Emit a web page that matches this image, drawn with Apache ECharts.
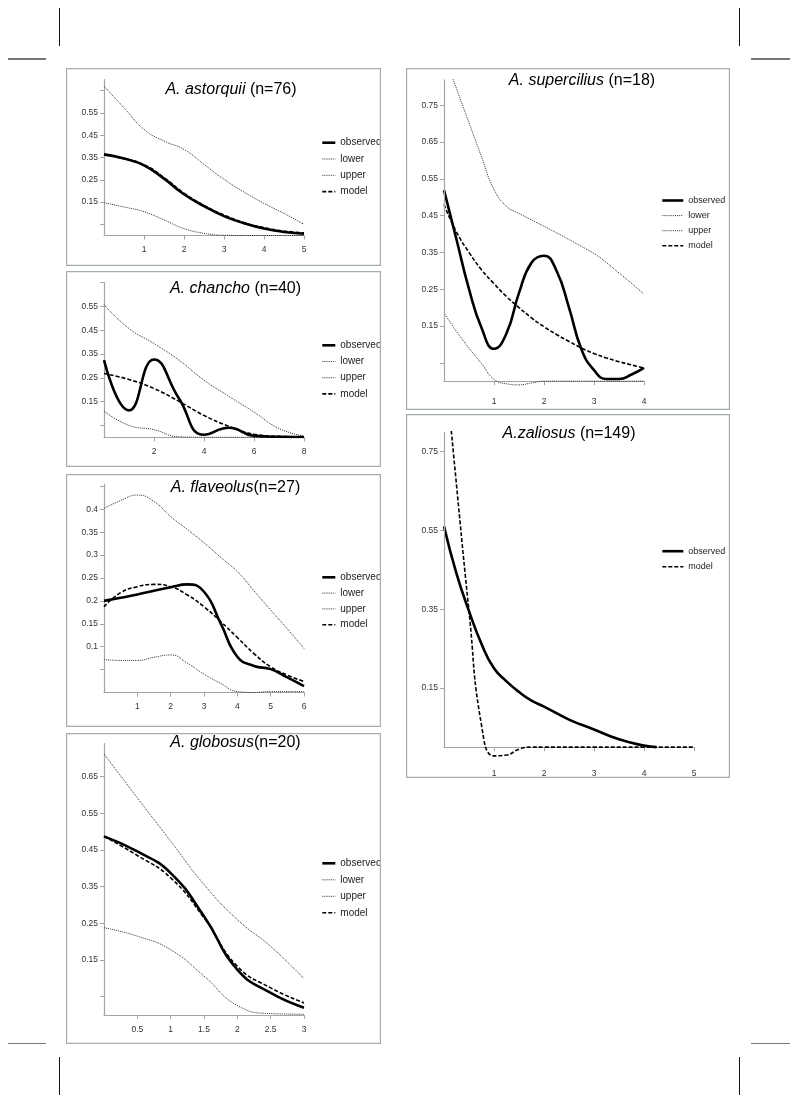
<!DOCTYPE html>
<html><head><meta charset="utf-8">
<script src="https://cdn.jsdelivr.net/npm/echarts@6/dist/echarts.min.js"></script>
<style>
html,body{margin:0;padding:0;background:#fff;}
body{width:798px;height:1103px;position:relative;overflow:hidden;}
.panel{position:absolute;}
.mv{position:absolute;background:#111;width:1.3px;}
.mh{position:absolute;background:#777;height:1.4px;}
</style></head><body>
<div class="mv" style="left:59px;top:8px;height:38px"></div>
<div class="mh" style="left:8px;top:58.3px;width:38px"></div>
<div class="mv" style="left:738.5px;top:8px;height:38px"></div>
<div class="mh" style="left:751px;top:58.3px;width:39px"></div>
<div class="mh" style="left:8px;top:1042.8px;width:38px"></div>
<div class="mv" style="left:59px;top:1057px;height:38px"></div>
<div class="mh" style="left:751px;top:1042.8px;width:39px"></div>
<div class="mv" style="left:738.5px;top:1057px;height:38px"></div>

<div id="p1" class="panel" style="left:66px;top:68px;width:315px;height:198px"></div>
<div id="p2" class="panel" style="left:66px;top:271px;width:315px;height:196px"></div>
<div id="p3" class="panel" style="left:66px;top:474px;width:315px;height:253px"></div>
<div id="p4" class="panel" style="left:66px;top:733px;width:315px;height:311px"></div>
<div id="p5" class="panel" style="left:406px;top:68px;width:324px;height:342px"></div>
<div id="p6" class="panel" style="left:406px;top:414px;width:324px;height:364px"></div>

<script>
// ---------- A. astorquii ----------
const astX = [0,0.5,1,1.5,2,2.5,3,3.5,4,4.5,5];
const astObserved = [0.364,0.345,0.315,0.255,0.185,0.132,0.087,0.055,0.031,0.016,0.008];
const astLower = [0.147,0.128,0.107,0.07,0.031,0.01,0.001,0,0,0,0];
const astUpper = [0.67,0.573,0.476,0.424,0.386,0.319,0.252,0.195,0.144,0.099,0.05];
const astModel = [0.362,0.345,0.318,0.26,0.19,0.135,0.092,0.058,0.035,0.02,0.012];
const astXTicks = [1,2,3,4,5];
const astYTicks = [0.05,0.15,0.25,0.35,0.45,0.55,0.65];
const astYLabels = [0.15,0.25,0.35,0.45,0.55];

// ---------- A. chancho ----------
const chaX = [0,1,2,3,4,5,6,7,8];
const chaObserved = [0.324,0.113,0.327,0.163,0.011,0.04,0.006,0.002,0.001];
const chaLower = [0.11,0.05,0.032,0.002,0,0,0,0,0];
const chaUpper = [0.557,0.457,0.394,0.324,0.24,0.172,0.106,0.037,0.005];
const chaModel = [0.268,0.243,0.205,0.151,0.092,0.046,0.013,0.004,0.002];
const chaXTicks = [2,4,6,8];
const chaYTicks = [0.05,0.15,0.25,0.35,0.45,0.55,0.65];
const chaYLabels = [0.15,0.25,0.35,0.45,0.55];

// ---------- A. flaveolus ----------
const flaX = [0,0.5,1,1.5,2,2.5,3,3.5,4,4.5,5,5.5,6];
const flaObserved = [0.2,0.207,0.214,0.222,0.23,0.236,0.22,0.151,0.078,0.058,0.051,0.033,0.014];
const flaLower = [0.072,0.07,0.07,0.077,0.082,0.064,0.04,0.02,0.002,0,0.002,0.002,0.002];
const flaUpper = [0.402,0.419,0.431,0.417,0.384,0.356,0.327,0.295,0.264,0.222,0.18,0.139,0.096];
const flaModel = [0.187,0.218,0.231,0.236,0.231,0.213,0.187,0.155,0.12,0.085,0.056,0.038,0.024];
const flaXTicks = [1,2,3,4,5,6];
const flaYTicks = [0.05,0.1,0.15,0.2,0.25,0.3,0.35,0.4,0.45];
const flaYLabels = [0.1,0.15,0.2,0.25,0.3,0.35,0.4];

// ---------- A. globosus ----------
const gloX = [0,0.5,1,1.5,2,2.5,3];
const gloObserved = [0.487,0.446,0.387,0.269,0.124,0.06,0.02];
const gloLower = [0.238,0.215,0.178,0.106,0.026,0.004,0.002];
const gloUpper = [0.712,0.592,0.474,0.356,0.26,0.187,0.099];
const gloModel = [0.487,0.435,0.374,0.265,0.133,0.074,0.033];
const gloXTicks = [0.5,1,1.5,2,2.5,3];
const gloYTicks = [0.05,0.15,0.25,0.35,0.45,0.55,0.65];
const gloYLabels = [0.15,0.25,0.35,0.45,0.55,0.65];

// ---------- A. supercilius ----------
const supX = [0,0.25,0.5,0.75,1,1.25,1.5,1.75,2,2.25,2.5,2.75,3,3.25,3.5,3.75,4];
const supObserved = [0.519,0.385,0.25,0.145,0.088,0.13,0.24,0.322,0.341,0.3,0.2,0.086,0.03,0.006,0.006,0.018,0.036];
const supLower = [0.186,0.135,0.09,0.048,0.005,-0.007,-0.01,-0.005,0,0,0,0,0,0,0,0,0];
const supUpper = [0.89,0.795,0.702,0.61,0.521,0.475,0.456,0.438,0.421,0.403,0.385,0.366,0.347,0.322,0.294,0.266,0.236];
const supModel = [0.48,0.405,0.35,0.303,0.265,0.23,0.2,0.172,0.148,0.127,0.108,0.09,0.075,0.063,0.053,0.044,0.036];
const supXTicks = [1,2,3,4];
const supYTicks = [0.05,0.15,0.25,0.35,0.45,0.55,0.65,0.75];
const supYLabels = [0.15,0.25,0.35,0.45,0.55,0.65,0.75];

// ---------- A. zaliosus ----------
const zalObsX = [0,0.25,0.5,0.75,1,1.25,1.5,1.75,2,2.5,3,3.5,4,4.25];
const zalObserved = [0.56,0.44,0.345,0.262,0.2,0.167,0.14,0.118,0.103,0.07,0.045,0.02,0.004,0];
const zalModelX = [0,0.25,0.5,0.75,1,1.25,1.5,1.75,2,3,4,5];
const zalModel = [1.0,0.665,0.345,0.056,-0.022,-0.02,-0.005,0,0,0,0,0];
const zalXTicks = [1,2,3,4,5];
const zalYTicks = [0.15,0.35,0.55,0.75];
const zalYLabels = [0.15,0.35,0.55,0.75];

// ---------- styles ----------
const FONT = 'Liberation Sans, Arial, sans-serif';
const AX = '#9ea6ab';
const BORDER = '#a4acae';
const ST = {
  observed: {color:'#000', width:2.6, type:'solid', z:4},
  lower: {color:'#2a2a2a', width:1, type:[1,1.1], z:2},
  upper: {color:'#2a2a2a', width:1, type:[1,1.1], z:2},
  model: {color:'#000', width:1.6, type:[4,2], z:3}
};

function pairs(xs, ys){ return xs.map((x,i)=>[x, ys[i]]); }

function makePanel(id, c){
  const el = document.getElementById(id);
  const chart = echarts.init(el, null, {renderer:'canvas'});
  const W = el.clientWidth, H = el.clientHeight;
  const series = c.series.map((s, i) => {
    const st = ST[s.name];
    const o = {
      type:'line', name:s.name, data:s.data, showSymbol:false, symbol:'none',
      smooth:0.5, clip:true, silent:true, animation:false, z:st.z,
      lineStyle:{color:st.color, width:st.width, type:st.type},
      itemStyle:{color:st.color}
    };
    if (i === 0 && c.markAxis) {
      o.markLine = {
        silent:true, animation:false, symbol:['none','none'], label:{show:false},
        lineStyle:{color:AX, width:1.2, type:'solid'},
        emphasis:{disabled:true},
        data:[[{coord:[0,0]},{coord:[0,c.yMax]}]]
      };
    }
    return o;
  });
  chart.setOption({
    animation:false,
    backgroundColor:'#fff',
    grid:{left:c.grid[0], top:c.grid[1], width:c.grid[2], height:c.grid[3], containLabel:false},
    xAxis:{
      type:'value', min:0, max:c.xMax,
      axisLine:{show:true, onZero:true, lineStyle:{color:AX, width:1.2}},
      axisTick:{show:true, customValues:c.xTicks, length:4, lineStyle:{color:AX, width:1}},
      axisLabel:{customValues:c.xTicks, margin:10, fontSize:8.5, color:'#333', fontFamily:FONT},
      splitLine:{show:false}
    },
    yAxis:{
      type:'value', min:c.yMin, max:c.yMax,
      axisLine:{show:!c.markAxis, onZero:false, lineStyle:{color:AX, width:1.2}},
      axisTick:{show:true, customValues:c.yTicks, length:4, lineStyle:{color:AX, width:1}},
      axisLabel:{customValues:c.yLabels, margin:6, fontSize:8.5, color:'#333', fontFamily:FONT},
      splitLine:{show:false}
    },
    legend:{
      orient:'vertical', left:c.legend[0], top:c.legend[1], padding:0,
      itemWidth:c.legend[2], itemHeight:10, itemGap:c.legend[3],
      selectedMode:false,
      itemStyle:{opacity:0, borderWidth:0},
      lineStyle:{width:'inherit', type:'inherit', color:'inherit'},
      textStyle:{fontSize:c.legend[4], color:'#222', fontFamily:FONT},
      data:c.series.map(s=>s.name)
    },
    graphic:[
      {type:'text', x:c.title[0], y:c.title[1], silent:true, z:10,
       style:{text:c.title[2], align:'center', verticalAlign:'middle', textAlign:'center', textVerticalAlign:'middle',
         fontSize:16, fontFamily:FONT, fill:'#000',
         rich:{i:{fontStyle:'italic', fontSize:16, fontFamily:FONT, fill:'#000'},
               n:{fontSize:16, fontFamily:FONT, fill:'#000'}}}},
      {type:'rect', silent:true, z:100, shape:{x:0.6, y:0.6, width:W-1.2, height:H-1.2},
       style:{fill:'none', stroke:BORDER, lineWidth:1.2}}
    ],
    series:series
  });
}

makePanel('p1', {
  grid:[38,11.5,200,156], xMax:5, xTicks:astXTicks, yMin:0, yMax:0.7, yTicks:astYTicks, yLabels:astYLabels,
  title:[165,21.3,'{i|A. astorquii}{n| (n=76)}'], legend:[255,69.7,13,6.3,10],
  series:[
    {name:'observed', data:pairs(astX, astObserved)},
    {name:'lower', data:pairs(astX, astLower)},
    {name:'upper', data:pairs(astX, astUpper)},
    {name:'model', data:pairs(astX, astModel)}
  ]
});
makePanel('p2', {
  grid:[38,11.6,200,154.7], xMax:8, xTicks:chaXTicks, yMin:0, yMax:0.65, yTicks:chaYTicks, yLabels:chaYLabels,
  title:[169.5,17.3,'{i|A. chancho}{n| (n=40)}'], legend:[255,69.3,13,6.2,10],
  series:[
    {name:'observed', data:pairs(chaX, chaObserved)},
    {name:'lower', data:pairs(chaX, chaLower)},
    {name:'upper', data:pairs(chaX, chaUpper)},
    {name:'model', data:pairs(chaX, chaModel)}
  ]
});
makePanel('p3', {
  grid:[38,10.1,200,208.4], xMax:6, xTicks:flaXTicks, yMin:0, yMax:0.455, yTicks:flaYTicks, yLabels:flaYLabels,
  title:[169.5,13.3,'{i|A. flaveolus}{n|(n=27)}'], legend:[255,98.3,13,5.8,10],
  series:[
    {name:'observed', data:pairs(flaX, flaObserved)},
    {name:'lower', data:pairs(flaX, flaLower)},
    {name:'upper', data:pairs(flaX, flaUpper)},
    {name:'model', data:pairs(flaX, flaModel)}
  ]
});
makePanel('p4', {
  grid:[38,10.6,200,271.4], xMax:3, xTicks:gloXTicks, yMin:0, yMax:0.74, yTicks:gloYTicks, yLabels:gloYLabels,
  title:[169.5,9.7,'{i|A. globosus}{n|(n=20)}'], legend:[255,125.3,13,6.5,10],
  series:[
    {name:'observed', data:pairs(gloX, gloObserved)},
    {name:'lower', data:pairs(gloX, gloLower)},
    {name:'upper', data:pairs(gloX, gloUpper)},
    {name:'model', data:pairs(gloX, gloModel)}
  ]
});
makePanel('p5', {
  grid:[38,11.4,200,307.3], xMax:4, xTicks:supXTicks, yMin:-0.015, yMax:0.82, yTicks:supYTicks, yLabels:supYLabels,
  markAxis:true,
  title:[176,13,'{i|A. supercilius}{n| (n=18)}'], legend:[255,128,21,6.1,9],
  series:[
    {name:'observed', data:pairs(supX, supObserved)},
    {name:'lower', data:pairs(supX, supLower)},
    {name:'upper', data:pairs(supX, supUpper)},
    {name:'model', data:pairs(supX, supModel)}
  ]
});
makePanel('p6', {
  grid:[38,17.8,250,329.1], xMax:5, xTicks:zalXTicks, yMin:-0.03, yMax:0.8, yTicks:zalYTicks, yLabels:zalYLabels,
  markAxis:true,
  title:[163,20,'{i|A.zaliosus}{n| (n=149)}'], legend:[255,132.7,21,6.6,9],
  series:[
    {name:'observed', data:pairs(zalObsX, zalObserved)},
    {name:'model', data:pairs(zalModelX, zalModel)}
  ]
});
</script>
</body></html>
